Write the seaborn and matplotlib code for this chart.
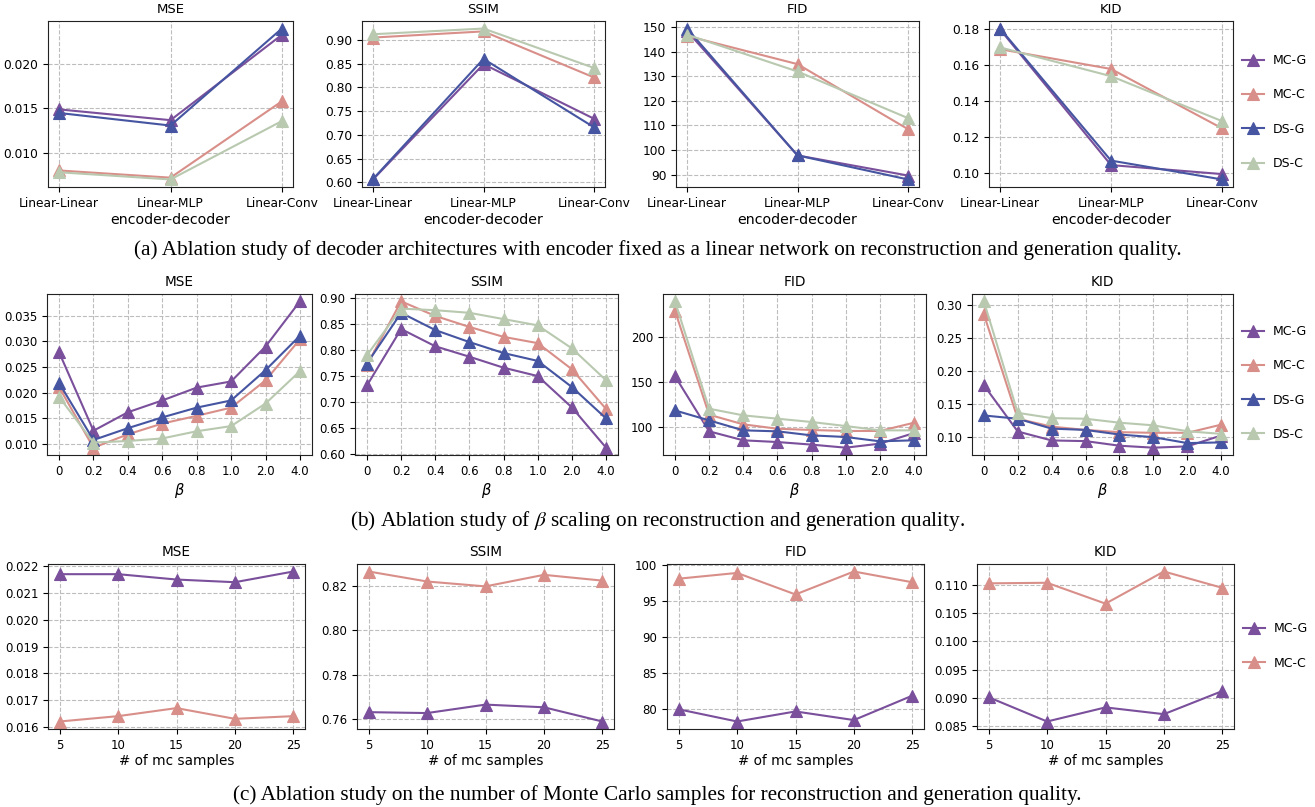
import numpy as np
import pandas as pd
import matplotlib
matplotlib.use("Agg")
import matplotlib.pyplot as plt
from matplotlib.ticker import MultipleLocator
import seaborn as sns

# ---------------- data ----------------
series4 = ["MC-G", "MC-C", "DS-G", "DS-C"]
series2 = ["MC-G", "MC-C"]
colors = {"MC-G": "#7a4f9b", "MC-C": "#d98f89", "DS-G": "#4655a1", "DS-C": "#b9c9b0"}
metrics = ["MSE", "SSIM", "FID", "KID"]

# (a) decoder architectures
arch = ["Linear-Linear", "Linear-MLP", "Linear-Conv"]
a_mse = {"MC-G": [0.0149, 0.0137, 0.0232], "MC-C": [0.0081, 0.0073, 0.0158],
         "DS-G": [0.0145, 0.0131, 0.0239], "DS-C": [0.0079, 0.0071, 0.0136]}
a_ssim = {"MC-G": [0.606, 0.849, 0.734], "MC-C": [0.905, 0.918, 0.821],
          "DS-G": [0.607, 0.860, 0.716], "DS-C": [0.912, 0.924, 0.841]}
a_fid = {"MC-G": [148.5, 97.8, 89.6], "MC-C": [146.5, 135.0, 108.5],
         "DS-G": [149.5, 97.8, 88.0], "DS-C": [147.0, 132.0, 113.0]}
a_kid = {"MC-G": [0.180, 0.1045, 0.0995], "MC-C": [0.169, 0.158, 0.125],
         "DS-G": [0.1805, 0.107, 0.0965], "DS-C": [0.170, 0.154, 0.129]}

# (b) beta scaling
beta = ["0", "0.2", "0.4", "0.6", "0.8", "1.0", "2.0", "4.0"]
b_mse = {"MC-G": [0.0279, 0.0126, 0.0162, 0.0185, 0.0210, 0.0222, 0.0290, 0.0378],
         "MC-C": [0.0211, 0.0093, 0.0119, 0.0140, 0.0155, 0.0171, 0.0224, 0.0304],
         "DS-G": [0.0219, 0.0108, 0.0131, 0.0152, 0.0171, 0.0185, 0.0244, 0.0311],
         "DS-C": [0.0192, 0.0103, 0.0106, 0.0111, 0.0125, 0.0135, 0.0179, 0.0242]}
b_ssim = {"MC-G": [0.732, 0.840, 0.807, 0.787, 0.766, 0.750, 0.690, 0.613],
          "MC-C": [0.771, 0.893, 0.865, 0.844, 0.825, 0.813, 0.763, 0.687],
          "DS-G": [0.774, 0.871, 0.838, 0.815, 0.794, 0.779, 0.729, 0.669],
          "DS-C": [0.790, 0.879, 0.876, 0.871, 0.859, 0.847, 0.803, 0.742]}
b_fid = {"MC-G": [156.7, 95.2, 85.2, 83.3, 80.4, 77.0, 81.5, 93.3],
         "MC-C": [229.6, 113.7, 103.0, 98.1, 96.7, 95.6, 95.6, 104.8],
         "DS-G": [118.5, 107.4, 96.3, 95.2, 90.7, 88.9, 84.1, 85.2],
         "DS-C": [240.0, 120.4, 113.0, 109.3, 105.6, 101.1, 96.3, 96.3]}
b_kid = {"MC-G": [0.178, 0.1076, 0.094, 0.093, 0.086, 0.083, 0.085, 0.1015],
         "MC-C": [0.286, 0.127, 0.115, 0.110, 0.1066, 0.1056, 0.1056, 0.118],
         "DS-G": [0.132, 0.127, 0.112, 0.110, 0.103, 0.099, 0.090, 0.091],
         "DS-C": [0.3056, 0.136, 0.128, 0.127, 0.121, 0.117, 0.108, 0.104]}

# (c) number of mc samples
mc = [5, 10, 15, 20, 25]
c_mse = {"MC-G": [0.02170, 0.02170, 0.02150, 0.02140, 0.02180],
         "MC-C": [0.01620, 0.01640, 0.01670, 0.01630, 0.01640]}
c_ssim = {"MC-G": [0.7632, 0.7628, 0.7666, 0.7654, 0.7590],
          "MC-C": [0.8265, 0.8220, 0.8198, 0.8250, 0.8224]}
c_fid = {"MC-G": [79.9, 78.2, 79.6, 78.4, 81.8],
         "MC-C": [98.1, 98.9, 95.9, 99.1, 97.6]}
c_kid = {"MC-G": [0.0901, 0.0858, 0.0883, 0.0871, 0.0912],
         "MC-C": [0.1103, 0.1104, 0.1067, 0.1124, 0.1095]}

captions = [
    "(a) Ablation study of decoder architectures with encoder fixed as a linear network on reconstruction and generation quality.",
    "(b) Ablation study of $\\beta$ scaling on reconstruction and generation quality.",
    "(c) Ablation study on the number of Monte Carlo samples for reconstruction and generation quality.",
]

# ---------------- layout ----------------
W, H = 1315, 807
fig = plt.figure(figsize=(W / 100, H / 100), dpi=100)

rows = [
    dict(x=arch, data=[a_mse, a_ssim, a_fid, a_kid], series=series4, xlabel="encoder-decoder",
         steps=[0.005, 0.05, 10, 0.02],
         boxes=[(48, 21, 293, 187), (362, 21, 605, 187), (676, 21, 919, 187), (989, 21, 1233, 187)],
         tick=8.8, title=9.5, label=10.2, legend_y=112, cap_y=250),
    dict(x=beta, data=[b_mse, b_ssim, b_fid, b_kid], series=series4, xlabel="$\\beta$",
         steps=[0.005, 0.05, 50, 0.05],
         boxes=[(47, 294, 312, 455), (355, 294, 618, 455), (663, 294, 926, 455), (972, 294, 1233, 455)],
         tick=8.5, title=9.8, label=10.5, legend_y=383, cap_y=521),
    dict(x=mc, data=[c_mse, c_ssim, c_fid, c_kid], series=series2, xlabel="# of mc samples",
         steps=[0.001, 0.02, 5, 0.005],
         boxes=[(48, 564, 305, 729), (357, 564, 614, 729), (667, 564, 924, 729), (977, 564, 1234, 729)],
         tick=8.5, title=9.8, label=9.8, legend_y=646, cap_y=795),
]

for ri, r in enumerate(rows):
    for k, (metric, d, box) in enumerate(zip(metrics, r["data"], r["boxes"])):
        l, t, rr, b = box
        ax = fig.add_axes([l / W, 1 - b / H, (rr - l) / W, (b - t) / H])
        recs = []
        for s in r["series"]:
            for xv, yv in zip(r["x"], d[s]):
                recs.append({"x": xv, "y": yv, "method": s})
        df = pd.DataFrame(recs)
        sns.lineplot(data=df, x="x", y="y", hue="method", hue_order=r["series"],
                     palette=colors, marker="^", markersize=9,
                     linewidth=1.5, sort=False, ax=ax, legend=(k == 3))
        for ln in ax.lines:
            ln.set_markeredgecolor(ln.get_color())
            ln.set_markeredgewidth(0.8)
        if isinstance(r["x"][0], (int, np.integer)):
            ax.set_xticks(r["x"])
        ax.yaxis.set_major_locator(MultipleLocator(r["steps"][k]))
        ax.set_title(metric, fontsize=r["title"])
        ax.set_xlabel(r["xlabel"], fontsize=r["label"], labelpad=2)
        ax.set_ylabel("")
        ax.tick_params(labelsize=r["tick"])
        ax.grid(True, linestyle="--", color="#bdbdbd", linewidth=0.8)
        for sp in ax.spines.values():
            sp.set_color("#222222")
        if k == 3:
            leg = ax.legend(loc="center left", frameon=False, fontsize=9,
                            labelspacing=1.7, handlelength=1.8, handletextpad=0.7,
                            borderpad=0.2, borderaxespad=0.0, title=None)
            for h in leg.legend_handles:
                h.set_markeredgecolor(h.get_color())
            leg.set_bbox_to_anchor((rr / W + 6 / W, 1 - r["legend_y"] / H), transform=fig.transFigure)
    fig.text(0.5, 1 - r["cap_y"] / H, captions[ri], ha="center", va="center",
             fontsize=15.3, family="Liberation Serif", math_fontfamily="stix")

fig.savefig("out.png", dpi=100)
